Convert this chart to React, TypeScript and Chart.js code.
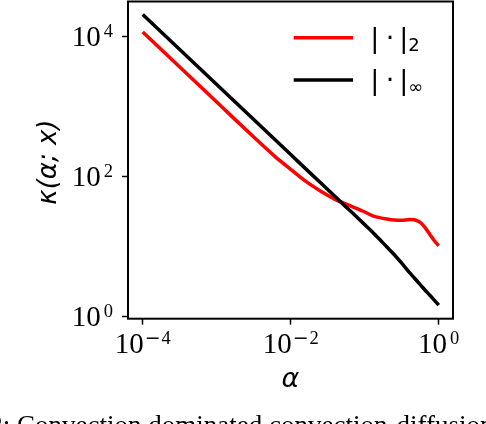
import React, { useEffect, useRef } from "react";
import { Chart, registerables } from "chart.js";

Chart.register(...registerables);

// ---- data ----
const alpha = [
  1e-4, 3.162e-4, 1e-3, 3.162e-3, 6.31e-3, 1e-2, 1.585e-2, 2.512e-2, 3.981e-2,
  5.012e-2, 6.31e-2, 0.1, 0.1259, 0.1585, 0.1995, 0.2512, 0.3162, 0.3981,
  0.4677, 0.5623, 0.6607, 0.7586, 0.871, 1.0,
];
const kappa2 = [
  11482, 3631, 1148, 363.1, 186.2, 125.9, 85.1, 61.7, 46.8, 42.2, 38.0, 30.9,
  27.5, 25.7, 24.5, 23.7, 23.55, 24.1, 24.0, 21.9, 18.2, 14.8, 12.0, 10.2,
];
const kappaInf = [
  20417, 6457, 2042, 645.7, 323.6, 204.2, 128.8, 81.3, 51.3, 40.7, 32.4, 20.4,
  16.2, 12.6, 9.77, 7.59, 5.75, 4.27, 3.53, 2.84, 2.34, 2.0, 1.7, 1.445,
];

const seriesLabels = ["|·|₂", "|·|∞"];
const legendBase = ["|", "·", "|"];
const legendSub = ["2", "∞"];
const seriesColors = ["#ff0000", "#000000"];

const xTickValues = [1e-4, 1e-2, 1];
const xTickExps = ["−4", "−2", "0"];
const yTickValues = [1, 100, 10000];
const yTickExps = ["0", "2", "4"];
const tickBase = "10";

const xTitle = "α";
const yTitle = "κ(α; x)";
const captionPrefix = "Figure 2: ";
const captionText = "Convection dominated convection-diffusion equation";

const xMin = Math.pow(10, -4.199);
const xMax = Math.pow(10, 0.193);
const yMin = Math.pow(10, -0.034);
const yMax = Math.pow(10, 4.497);

function drawExp(ctx: CanvasRenderingContext2D, s: string, x: number, y: number, measureOnly: boolean) {
  let w = s.startsWith("−") ? 1 : 3;
  for (const ch of s) {
    ctx.font = ch === "−" ? "19px 'DejaVu Serif'" : "18.5px 'Liberation Serif'";
    if (!measureOnly) ctx.fillText(ch, x + w, y);
    w += ctx.measureText(ch).width + (ch === "−" ? 1 : 0);
  }
  return w;
}

const customDraw = {
  id: "customDraw",
  afterDraw(chart: any) {
    const ctx: CanvasRenderingContext2D = chart.ctx;
    const { left, right, top, bottom } = chart.chartArea;
    ctx.save();
    // axes box
    ctx.strokeStyle = "#000";
    ctx.lineWidth = 2;
    ctx.strokeRect(left, top, right - left, bottom - top);

    ctx.fillStyle = "#000";
    ctx.textAlign = "left";
    ctx.textBaseline = "alphabetic";
    const baseFont = "29px 'Liberation Serif'";

    // x tick labels
    const xs = chart.scales.x;
    xTickValues.forEach((v, i) => {
      const px = xs.getPixelForValue(v);
      ctx.font = baseFont;
      const bw = ctx.measureText(tickBase).width;
      const ew = drawExp(ctx, xTickExps[i], 0, 0, true);
      const x0 = px - (bw + ew) / 2;
      const by = bottom + 34;
      ctx.font = baseFont;
      ctx.fillText(tickBase, x0, by);
      drawExp(ctx, xTickExps[i], x0 + bw, by - 8.7, false);
    });

    // y tick labels
    const ys = chart.scales.y;
    yTickValues.forEach((v, i) => {
      const py = ys.getPixelForValue(v);
      ctx.font = baseFont;
      const bw = ctx.measureText(tickBase).width;
      const ew = drawExp(ctx, yTickExps[i], 0, 0, true);
      const xEnd = left - 15;
      const x0 = xEnd - bw - ew;
      const by = py + 9.7;
      ctx.font = baseFont;
      ctx.fillText(tickBase, x0, by);
      drawExp(ctx, yTickExps[i], x0 + bw, by - 8.7, false);
    });

    // axis titles
    ctx.font = "italic 27px 'DejaVu Sans'";
    ctx.textAlign = "center";
    ctx.fillText(xTitle, (left + right) / 2, 387);

    ctx.save();
    ctx.translate(56, (top + bottom) / 2 + 2);
    ctx.rotate(-Math.PI / 2);
    ctx.font = "italic 26px 'DejaVu Sans'";
    ctx.fillText(yTitle, 0, 0);
    ctx.restore();

    // legend
    const rowY = [37.7, 80];
    seriesColors.forEach((c, i) => {
      const y = rowY[i];
      ctx.strokeStyle = c;
      ctx.lineWidth = 3.5;
      ctx.beginPath();
      ctx.moveTo(293.7, y);
      ctx.lineTo(353, y);
      ctx.stroke();
      ctx.fillStyle = "#000";
      ctx.font = "27px 'DejaVu Sans'";
      ctx.textAlign = "center";
      const bl = y + 9.3;
      ctx.fillText(legendBase[0], 374.7, bl);
      ctx.fillText(legendBase[1], 390, bl);
      ctx.fillText(legendBase[2], 403.7, bl);
      ctx.textAlign = "left";
      ctx.font = "18px 'DejaVu Sans'";
      ctx.fillText(legendSub[i], 408.3, bl + 4);
    });

    // caption (cut off by the page edge, as in the reference)
    ctx.font = "27px 'Liberation Serif'";
    ctx.textAlign = "right";
    ctx.fillText(captionPrefix, 17, 434);
    ctx.textAlign = "left";
    ctx.fillText(captionText, 17, 434);

    ctx.restore();
  },
};

export default function App() {
  const ref = useRef<HTMLCanvasElement | null>(null);
  useEffect(() => {
    document.body.style.margin = "0";
    const canvas = ref.current!;
    const gridOpts = {
      display: true,
      drawOnChartArea: false,
      drawTicks: true,
      tickLength: 6,
      tickWidth: 1.5,
      tickColor: "#000",
      color: "#000",
    };
    const chart = new Chart(canvas, {
      type: "line",
      data: {
        datasets: [
          {
            label: seriesLabels[0],
            data: alpha.map((a, i) => ({ x: a, y: kappa2[i] })),
            borderColor: seriesColors[0],
            backgroundColor: seriesColors[0],
            borderWidth: 3.5,
            pointRadius: 0,
            tension: 0.3,
            order: 2,
          },
          {
            label: seriesLabels[1],
            data: alpha.map((a, i) => ({ x: a, y: kappaInf[i] })),
            borderColor: seriesColors[1],
            backgroundColor: seriesColors[1],
            borderWidth: 3.5,
            pointRadius: 0,
            tension: 0.3,
            order: 1,
          },
        ],
      },
      options: {
        animation: false,
        responsive: false,
        devicePixelRatio: 1,
        layout: { padding: { left: 0, right: 33, top: 1.5, bottom: 0 } },
        plugins: { legend: { display: false }, tooltip: { enabled: false } },
        scales: {
          x: {
            type: "logarithmic",
            min: xMin,
            max: xMax,
            bounds: "data",
            grid: gridOpts,
            border: { display: false },
            ticks: { display: false },
            afterBuildTicks: (s: any) => {
              s.ticks = xTickValues.map((v) => ({ value: v }));
            },
            afterFit: (s: any) => {
              s.height = 105.3;
            },
          },
          y: {
            type: "logarithmic",
            min: yMin,
            max: yMax,
            bounds: "data",
            grid: gridOpts,
            border: { display: false },
            ticks: { display: false },
            afterBuildTicks: (s: any) => {
              s.ticks = yTickValues.map((v) => ({ value: v }));
            },
            afterFit: (s: any) => {
              s.width = 128;
            },
          },
        },
      } as any,
      plugins: [customDraw],
    });
    return () => chart.destroy();
  }, []);
  return (
    <div style={{ position: "fixed", left: 0, top: 0, width: 486, height: 424, overflow: "hidden", background: "#fff" }}>
      <canvas ref={ref} width={486} height={424} style={{ display: "block", width: 486, height: 424 }} />
    </div>
  );
}
